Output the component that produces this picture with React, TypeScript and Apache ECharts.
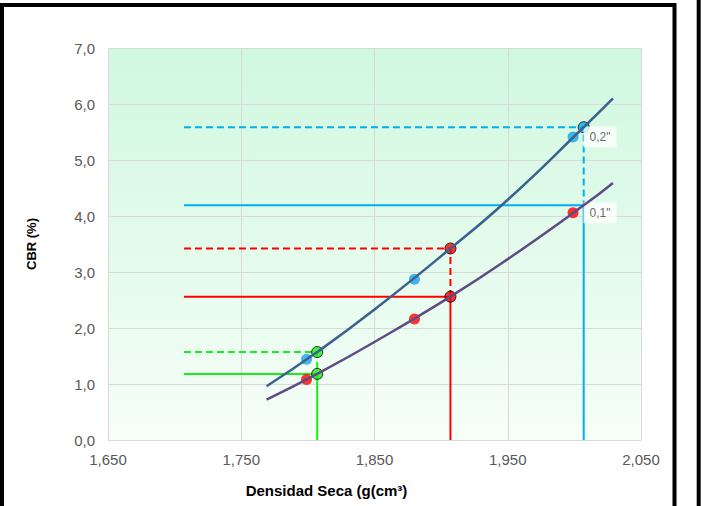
import React, { useEffect, useRef } from "react";
import * as echarts from "echarts";

// Axis ticks
const xTicks = [1650, 1750, 1850, 1950, 2050];
const yTicks = [0, 1, 2, 3, 4, 5, 6, 7];

// Fitted curve for 0.2"
const curve02X = [1769, 1807, 1850, 1907, 1950, 2007, 2029];
const curve02Y = [0.96, 1.57, 2.33, 3.42, 4.29, 5.585, 6.1];
// Fitted curve for 0.1"
const curve01X = [1769, 1807, 1850, 1907, 1950, 2007, 2029];
const curve01Y = [0.72, 1.18, 1.75, 2.56, 3.23, 4.19, 4.59];

// Measured points
const pointsX = [1799, 1880, 1999];
const cbr02 = [1.44, 2.87, 5.41];
const cbr01 = [1.08, 2.16, 4.06];
const pointLabels = ['0,2"', '0,1"'];

// Reference (design) lines: green, red, cyan
const refStartX = 1707;
const refX = [1807, 1907, 2007];
const ref02 = [1.57, 3.42, 5.585];
const ref01 = [1.18, 2.56, 4.19];
const refColors = ["#19EE19", "#FF0000", "#00B0F0"];
const refMarkerShow02 = [true, true, true];
const refMarkerShow01 = [true, true, false];

const FONT = "'Liberation Sans', Arial, sans-serif";

export default function App() {
  const ref = useRef<HTMLDivElement>(null);

  useEffect(() => {
    if (!ref.current) return;
    const chart = echarts.init(ref.current, null, { renderer: "svg" });

    const refSeries: any[] = [];
    refX.forEach((x, i) => {
      refSeries.push({
        type: "line",
        z: 2,
        showSymbol: false,
        symbol: "none",
        silent: true,
        lineStyle: { color: refColors[i], width: 2, type: [7, 4] },
        data: [
          [refStartX, ref02[i]],
          [x, ref02[i]],
          [x, ref01[i]],
        ],
      });
      refSeries.push({
        type: "line",
        z: 2,
        showSymbol: false,
        symbol: "none",
        silent: true,
        lineStyle: { color: refColors[i], width: 2 },
        data: [
          [refStartX, ref01[i]],
          [x, ref01[i]],
          [x, 0],
        ],
      });
    });

    const markerData: any[] = [];
    refX.forEach((x, i) => {
      if (refMarkerShow02[i])
        markerData.push({ value: [x, ref02[i]], itemStyle: { color: refColors[i] } });
      if (refMarkerShow01[i])
        markerData.push({ value: [x, ref01[i]], itemStyle: { color: refColors[i] } });
    });

    const labelStyle = {
      show: true,
      position: "right",
      distance: 5,
      backgroundColor: "#ffffff",
      padding: [5, 6, 4, 6],
      color: "#404040",
      fontSize: 12,
      fontFamily: FONT,
    };

    const mkPoints = (vals: number[], label: string) =>
      pointsX.map((x, i) =>
        i === pointsX.length - 1
          ? { value: [x, vals[i]], label: { ...labelStyle, formatter: label } }
          : { value: [x, vals[i]] }
      );

    chart.setOption({
      animation: false,
      grid: {
        left: 108,
        right: 67,
        top: 48,
        bottom: 66,
        show: true,
        borderWidth: 0,
        backgroundColor: new echarts.graphic.LinearGradient(0, 0, 0, 1, [
          { offset: 0, color: "#D0F8DF" },
          { offset: 1, color: "#F6FEF8" },
        ]),
      },
      xAxis: {
        type: "value",
        min: 1650,
        max: 2050,
        interval: 100,
        name: "Densidad Seca (g(cm³)",
        nameLocation: "middle",
        nameGap: 43,
        nameTextStyle: {
          fontFamily: FONT,
          fontWeight: "bold",
          fontSize: 15,
          color: "#000",
          padding: [0, 96, 0, 0],
        },
        axisLine: { show: true, lineStyle: { color: "#D9D9D9", width: 1 } },
        axisTick: { show: false, customValues: xTicks },
        axisLabel: {
          customValues: xTicks,
          margin: 12,
          color: "#595959",
          fontSize: 15,
          fontFamily: FONT,
          formatter: (v: number) => v.toLocaleString("en-US"),
        },
        splitLine: { show: true, lineStyle: { color: "#D9D9D9", width: 1 } },
      },
      yAxis: {
        type: "value",
        min: yTicks[0],
        max: yTicks[yTicks.length - 1],
        interval: 1,
        name: "CBR (%)",
        nameLocation: "middle",
        nameGap: 70,
        nameTextStyle: { fontFamily: FONT, fontWeight: "bold", fontSize: 13, color: "#000" },
        axisLine: { show: false },
        axisTick: { show: false },
        axisLabel: {
          margin: 13,
          color: "#595959",
          fontSize: 15,
          fontFamily: FONT,
          formatter: (v: number) => v.toFixed(1).replace(".", ","),
        },
        splitLine: { show: true, lineStyle: { color: "#D9D9D9", width: 1 } },
      },
      graphic: [
        {
          type: "rect",
          silent: true,
          shape: { x: 2, y: 5, width: 672.5, height: 600 },
          style: { fill: "none", stroke: "#000", lineWidth: 4 },
        },
        {
          type: "line",
          silent: true,
          shape: { x1: 698.7, y1: 0, x2: 698.7, y2: 506 },
          style: { stroke: "#000", lineWidth: 4 },
        },
      ],
      series: [
        ...refSeries,
        {
          type: "scatter",
          z: 3,
          symbol: "circle",
          symbolSize: 11,
          itemStyle: { borderColor: "#000", borderWidth: 1 },
          data: markerData,
        },
        {
          type: "scatter",
          z: 3,
          symbol: "circle",
          symbolSize: 11,
          itemStyle: { color: "#1AA3E8" },
          data: mkPoints(cbr02, pointLabels[0]),
        },
        {
          type: "scatter",
          z: 3,
          symbol: "circle",
          symbolSize: 11,
          itemStyle: { color: "#FF0000" },
          data: mkPoints(cbr01, pointLabels[1]),
        },
        {
          type: "line",
          z: 4,
          smooth: true,
          showSymbol: false,
          symbol: "none",
          lineStyle: { color: "#3B6190", width: 2.5 },
          data: curve02X.map((x, i) => [x, curve02Y[i]]),
        },
        {
          type: "line",
          z: 4,
          smooth: true,
          showSymbol: false,
          symbol: "none",
          lineStyle: { color: "#5F4B86", width: 2.5 },
          data: curve01X.map((x, i) => [x, curve01Y[i]]),
        },
      ],
    });

    return () => chart.dispose();
  }, []);

  return (
    <div
      ref={ref}
      style={{ position: "absolute", left: 0, top: 0, width: 708, height: 506, background: "#fff" }}
    />
  );
}
